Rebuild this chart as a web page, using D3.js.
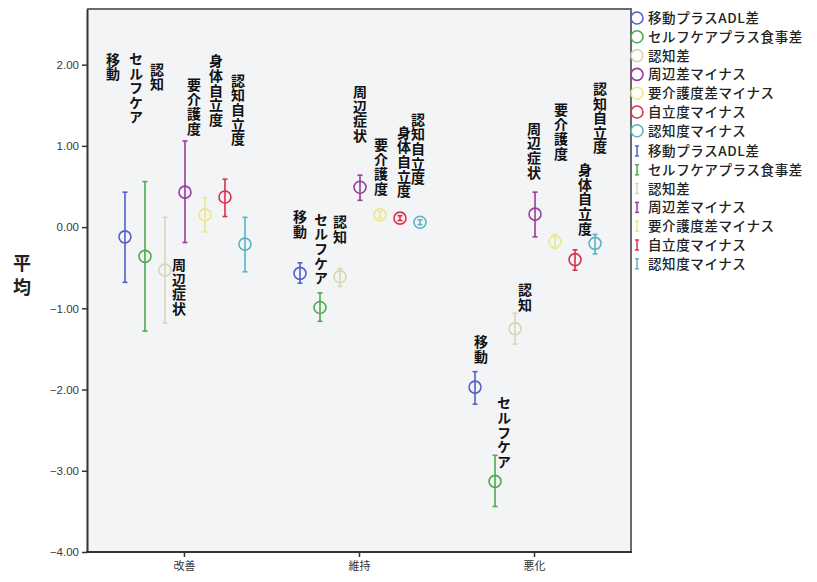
<!DOCTYPE html>
<html>
<head>
<meta charset="utf-8">
<script src="https://cdn.jsdelivr.net/npm/d3@7"></script>
<style>
  html, body { margin: 0; padding: 0; background: #ffffff; }
  svg { display: block; }
  .vlabel { writing-mode: vertical-rl; text-orientation: upright; }
</style>
</head>
<body>
<svg id="chart" width="817" height="582"></svg>
<script>
// Groups on the x axis
const categories = ["改善", "維持", "悪化"];

// Series (legend names)
const seriesNames = [
  "移動プラスADL差",
  "セルフケアプラス食事差",
  "認知差",
  "周辺差マイナス",
  "要介護度差マイナス",
  "自立度マイナス",
  "認知度マイナス"
];
const seriesColors = ["#5560c8", "#4cab4f", "#d9d6b6", "#9a3c9e", "#e9e98a", "#d8324c", "#5cb3c3"];

// Means per series, one value per category (改善, 維持, 悪化)
const means = [
  [-0.12, -0.57, -1.97],
  [-0.36, -0.99, -3.13],
  [-0.53, -0.61, -1.25],
  [ 0.43,  0.49,  0.16],
  [ 0.15,  0.15, -0.18],
  [ 0.37,  0.11, -0.40],
  [-0.21,  0.06, -0.20]
];
// Error bar upper limits
const upper = [
  [ 0.43, -0.44, -1.78],
  [ 0.56, -0.81, -2.81],
  [ 0.12, -0.51, -1.06],
  [ 1.06,  0.64,  0.43],
  [ 0.36,  0.19, -0.09],
  [ 0.59,  0.14, -0.28],
  [ 0.12,  0.09, -0.09]
];
// Error bar lower limits
const lower = [
  [-0.68, -0.69, -2.18],
  [-1.28, -1.16, -3.44],
  [-1.18, -0.73, -1.44],
  [-0.19,  0.33, -0.12],
  [-0.06,  0.11, -0.26],
  [ 0.13,  0.08, -0.53],
  [-0.55,  0.03, -0.33]
];

// Y axis ticks
const yTicks = [2, 1, 0, -1, -2, -3, -4];

// Vertical annotations: text, series index
const labelTexts  = ["移動", "セルフケア", "認知", "周辺症状", "要介護度", "身体自立度", "認知自立度"];
const labelSeries = [0, 1, 2, 3, 4, 5, 6];
// Top of each annotation in data units, per category (改善, 維持, 悪化)
const labelTop = [
  [ 2.15,  0.21, -1.33],
  [ 2.16,  0.18, -2.08],
  [ 2.03,  0.15, -0.69],
  [-0.38,  1.75,  1.30],
  [ 1.84,  1.10,  1.53],
  [ 2.13,  1.25,  0.79],
  [ 1.89,  1.41,  1.79]
];
// Horizontal nudge of each annotation relative to its marker (px)
const labelDx = [
  [-12,  0,  6],
  [ -9,  1,  9],
  [ -8,  0, 10],
  [ -6,  0, -1],
  [-11,  1,  6],
  [ -9,  4, 10],
  [ -7, -2,  5]
];

const svg = d3.select("#chart");
const plotL = 87, plotR = 631, plotT = 9, plotB = 552;

const x = d3.scalePoint().domain(categories).range([plotL, plotR]).padding(0.554);
const y = d3.scaleLinear().domain([-4, 2.685]).range([plotB, plotT]);
const seriesStep = 20;
const sx = (ci, si) => x(categories[ci]) + 1 + (si - 3) * seriesStep;

// Plot background
svg.append("rect")
  .attr("x", plotL).attr("y", plotT)
  .attr("width", plotR - plotL).attr("height", plotB - plotT)
  .attr("fill", "#f3f4f6");

// Top and right border
svg.append("path")
  .attr("d", `M${plotL},${plotT}H${plotR}V${plotB}`)
  .attr("fill", "none").attr("stroke", "#6a6a6a").attr("stroke-width", 2);

// Y axis
const yAxis = svg.append("g")
  .attr("transform", `translate(${plotL},0)`)
  .call(d3.axisLeft(y).tickValues(yTicks).tickFormat(d3.format(".2f")).tickSize(5).tickSizeOuter(0));
yAxis.select(".domain").attr("stroke", "#333").attr("stroke-width", 2);
yAxis.selectAll(".tick line").attr("stroke", "#333").attr("stroke-width", 1.5);
yAxis.selectAll(".tick text")
  .attr("x", -8)
  .attr("fill", "#3a3a3a")
  .style("font-family", "Arial, 'Liberation Sans', sans-serif")
  .style("font-size", "11.5px");

// X axis
const xAxis = svg.append("g")
  .attr("transform", `translate(0,${plotB})`)
  .call(d3.axisBottom(x).tickSize(5).tickSizeOuter(0));
xAxis.select(".domain").attr("stroke", "#333").attr("stroke-width", 2)
  .attr("d", `M${plotL - 1},0H${plotR + 1}`);
xAxis.selectAll(".tick line").attr("stroke", "#333").attr("stroke-width", 1.5);
xAxis.selectAll(".tick text")
  .attr("y", 10)
  .attr("fill", "#333")
  .style("font-family", "'Noto Sans CJK JP', sans-serif")
  .style("font-size", "11px");

// Y axis title, written top to bottom
svg.append("text")
  .attr("class", "vlabel")
  .attr("x", 22)
  .attr("y", 254)
  .style("font-family", "'Noto Sans CJK JP', sans-serif")
  .style("font-size", "18px")
  .style("font-weight", "700")
  .style("letter-spacing", "6px")
  .attr("fill", "#222")
  .text("平均");

// Error bars and mean markers
const points = [];
seriesNames.forEach((name, si) => {
  categories.forEach((cat, ci) => {
    points.push({ si, ci, m: means[si][ci], lo: lower[si][ci], hi: upper[si][ci] });
  });
});

const marks = svg.append("g");
const pg = marks.selectAll("g").data(points).join("g")
  .attr("stroke", d => seriesColors[d.si])
  .attr("fill", "none");
pg.append("line")
  .attr("x1", d => sx(d.ci, d.si)).attr("x2", d => sx(d.ci, d.si))
  .attr("y1", d => y(d.hi)).attr("y2", d => y(d.lo))
  .attr("stroke-width", 1.6);
pg.append("line")
  .attr("x1", d => sx(d.ci, d.si) - 2.5).attr("x2", d => sx(d.ci, d.si) + 2.5)
  .attr("y1", d => y(d.hi)).attr("y2", d => y(d.hi))
  .attr("stroke-width", 1.6);
pg.append("line")
  .attr("x1", d => sx(d.ci, d.si) - 2.5).attr("x2", d => sx(d.ci, d.si) + 2.5)
  .attr("y1", d => y(d.lo)).attr("y2", d => y(d.lo))
  .attr("stroke-width", 1.6);
pg.append("circle")
  .attr("cx", d => sx(d.ci, d.si)).attr("cy", d => y(d.m))
  .attr("r", 6)
  .attr("stroke-width", 1.6);

// Vertical annotations above / below the markers
const annots = [];
labelTexts.forEach((t, li) => {
  categories.forEach((cat, ci) => {
    annots.push({ t, si: labelSeries[li], ci, topVal: labelTop[li][ci], dx: labelDx[li][ci] });
  });
});
svg.append("g").selectAll("text").data(annots).join("text")
  .attr("class", "vlabel")
  .attr("x", d => sx(d.ci, d.si) + d.dx)
  .attr("y", d => y(d.topVal))
  .style("font-family", "'Noto Sans CJK JP', sans-serif")
  .style("font-size", "14px")
  .style("font-weight", "700")
  .style("letter-spacing", "0.6px")
  .attr("fill", "#111")
  .text(d => d.t);

// Legend
const legX = 637, legText = 648, rowH = 18.8, leg1Y = 18, leg2Y = 151;
const legend = svg.append("g");
const legendFont = sel => sel
  .style("font-family", "'Noto Sans CJK JP', sans-serif")
  .style("font-size", "13.5px")
  .style("font-weight", "500")
  .style("letter-spacing", "0.6px")
  .attr("fill", "#222");
seriesNames.forEach((name, i) => {
  const yy = leg1Y + i * rowH;
  legend.append("circle")
    .attr("cx", legX).attr("cy", yy).attr("r", 6)
    .attr("fill", "none").attr("stroke", seriesColors[i]).attr("stroke-width", 1.6);
  legend.append("text")
    .attr("x", legText).attr("y", yy + 5)
    .call(legendFont)
    .text(name);
});
seriesNames.forEach((name, i) => {
  const yy = leg2Y + i * rowH;
  const g = legend.append("g").attr("stroke", seriesColors[i]).attr("stroke-width", 1.5);
  g.append("line").attr("x1", legX).attr("x2", legX).attr("y1", yy - 5).attr("y2", yy + 5);
  g.append("line").attr("x1", legX - 2).attr("x2", legX + 2).attr("y1", yy - 5).attr("y2", yy - 5);
  g.append("line").attr("x1", legX - 2).attr("x2", legX + 2).attr("y1", yy + 5).attr("y2", yy + 5);
  legend.append("text")
    .attr("x", legText).attr("y", yy + 5)
    .call(legendFont)
    .text(name);
});
</script>
</body>
</html>
